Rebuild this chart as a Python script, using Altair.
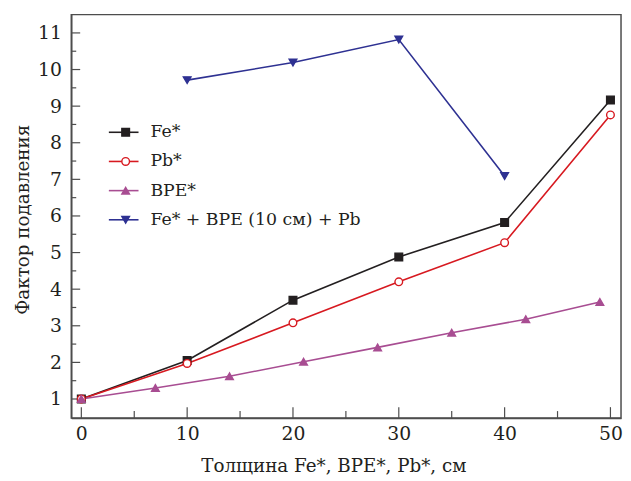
import altair as alt
import pandas as pd

# ---- data ----
fe_x = [0, 10, 20, 30, 40, 50]
fe_y = [1.0, 2.05, 3.70, 4.88, 5.82, 9.17]
pb_x = [0, 10, 20, 30, 40, 50]
pb_y = [1.0, 1.97, 3.08, 4.20, 5.27, 8.76]
bpe_x = [0, 7, 14, 21, 28, 35, 42, 49]
bpe_y = [1.0, 1.30, 1.62, 2.02, 2.41, 2.81, 3.18, 3.65]
comb_x = [10, 20, 30, 40]
comb_y = [9.71, 10.19, 10.82, 7.09]

series_names = ["Fe*", "Pb*", "BPE*", "Fe* + BPE (10 см) + Pb"]
series_colors = ["#231f20", "#d71920", "#a84d92", "#2e3192"]
series_fills = ["#231f20", "#ffffff", "#a84d92", "#2e3192"]
series_shapes = ["square", "circle", "triangle-up", "triangle-down"]

y_major = list(range(1, 12))
y_minor = [v + 0.5 for v in range(1, 11)]
x_major = [0, 10, 20, 30, 40, 50]
x_minor = [5, 15, 25, 35, 45]

x_title = "Толщина Fe*, BPE*, Pb*, см"
y_title = "Фактор подавления"

W, H = 556, 408
FONT = "DejaVu Serif"

rows = []
for name, xs, ys in zip(series_names, [fe_x, pb_x, bpe_x, comb_x], [fe_y, pb_y, bpe_y, comb_y]):
    for xv, yv in zip(xs, ys):
        rows.append({"series": name, "x": xv, "y": yv})
df = pd.DataFrame(rows)

xs = alt.Scale(domain=[-0.95, 51], nice=False, zero=False)
ys = alt.Scale(domain=[0.48, 11.5], nice=False, zero=False)
col = alt.Scale(domain=series_names, range=series_colors)
fil = alt.Scale(domain=series_names, range=series_fills)
shp = alt.Scale(domain=series_names, range=series_shapes)

xaxis = alt.Axis(values=x_major, ticks=False, tickSize=0, grid=False, labelFont=FONT,
                 labelFontSize=19, labelColor="#231f20", labelPadding=7,
                 domainColor="#4d4d4d", domainWidth=1.5, title=x_title, titleFont=FONT,
                 titleFontSize=18.5, titleFontWeight="normal", titleColor="#231f20",
                 titleX=265, titleY=48, titleBaseline="middle")
yaxis = alt.Axis(values=y_major, ticks=False, tickSize=0, grid=False, labelFont=FONT,
                 labelFontSize=19, labelColor="#231f20", labelPadding=10,
                 domainColor="#4d4d4d", domainWidth=1.5, title=y_title, titleFont=FONT,
                 titleFontSize=18.5, titleFontWeight="normal", titleColor="#231f20",
                 titleX=-49, titleY=207, titleBaseline="middle")

lines = alt.Chart(df).mark_line(strokeWidth=1.6).encode(
    x=alt.X("x:Q", scale=xs, axis=xaxis),
    y=alt.Y("y:Q", scale=ys, axis=yaxis),
    color=alt.Color("series:N", scale=col, legend=None),
    detail="series:N",
)
points = alt.Chart(df).mark_point(filled=True, size=60, strokeWidth=1.4, opacity=1).encode(
    x=alt.X("x:Q", scale=xs),
    y=alt.Y("y:Q", scale=ys),
    fill=alt.Fill("series:N", scale=fil, legend=None),
    stroke=alt.Stroke("series:N", scale=col, legend=None),
    shape=alt.Shape("series:N", scale=shp, legend=None),
)

# inward tick marks
ymaj = alt.Chart(pd.DataFrame({"v": y_major})).mark_rule(color="#4d4d4d", strokeWidth=1.2).encode(
    y=alt.Y("v:Q", scale=ys), x=alt.value(0), x2=alt.value(9))
ymin = alt.Chart(pd.DataFrame({"v": y_minor})).mark_rule(color="#4d4d4d", strokeWidth=1.2).encode(
    y=alt.Y("v:Q", scale=ys), x=alt.value(0), x2=alt.value(5))
xmaj = alt.Chart(pd.DataFrame({"v": x_major})).mark_rule(color="#4d4d4d", strokeWidth=1.2).encode(
    x=alt.X("v:Q", scale=xs), y=alt.value(H), y2=alt.value(H - 11))
xmin = alt.Chart(pd.DataFrame({"v": x_minor})).mark_rule(color="#4d4d4d", strokeWidth=1.2).encode(
    x=alt.X("v:Q", scale=xs), y=alt.value(H), y2=alt.value(H - 7))

# manual legend (layout positions in pixels)
leg = pd.DataFrame({"series": series_names, "i": list(range(4))})
leg_base = alt.Chart(leg).transform_calculate(
    py="119 + datum.i * 29.5", lx1="38", lx2="68", mx="55", tx="80")
leg_lines = leg_base.mark_rule(strokeWidth=1.6).encode(
    x=alt.X("lx1:Q", scale=None), x2="lx2:Q", y=alt.Y("py:Q", scale=None),
    color=alt.Color("series:N", scale=col, legend=None))
leg_pts = leg_base.mark_point(filled=True, size=60, strokeWidth=1.4, opacity=1).encode(
    x=alt.X("mx:Q", scale=None), y=alt.Y("py:Q", scale=None),
    fill=alt.Fill("series:N", scale=fil, legend=None),
    stroke=alt.Stroke("series:N", scale=col, legend=None),
    shape=alt.Shape("series:N", scale=shp, legend=None))
leg_txt = leg_base.mark_text(align="left", baseline="middle", font=FONT, fontSize=17.5,
                             color="#231f20").encode(
    x=alt.X("tx:Q", scale=None), y=alt.Y("py:Q", scale=None), text="series:N")

chart = alt.layer(ymaj, ymin, xmaj, xmin, lines, points, leg_lines, leg_pts, leg_txt).properties(
    width=W, height=H,
    autosize=alt.AutoSizeParams(type="none"),
    padding={"left": 64, "top": 4, "right": 2, "bottom": 62},
    background="white",
).configure_view(stroke="#4d4d4d", strokeWidth=1.5)

chart.save("out.html", embed_options={"renderer": "svg", "actions": False})
